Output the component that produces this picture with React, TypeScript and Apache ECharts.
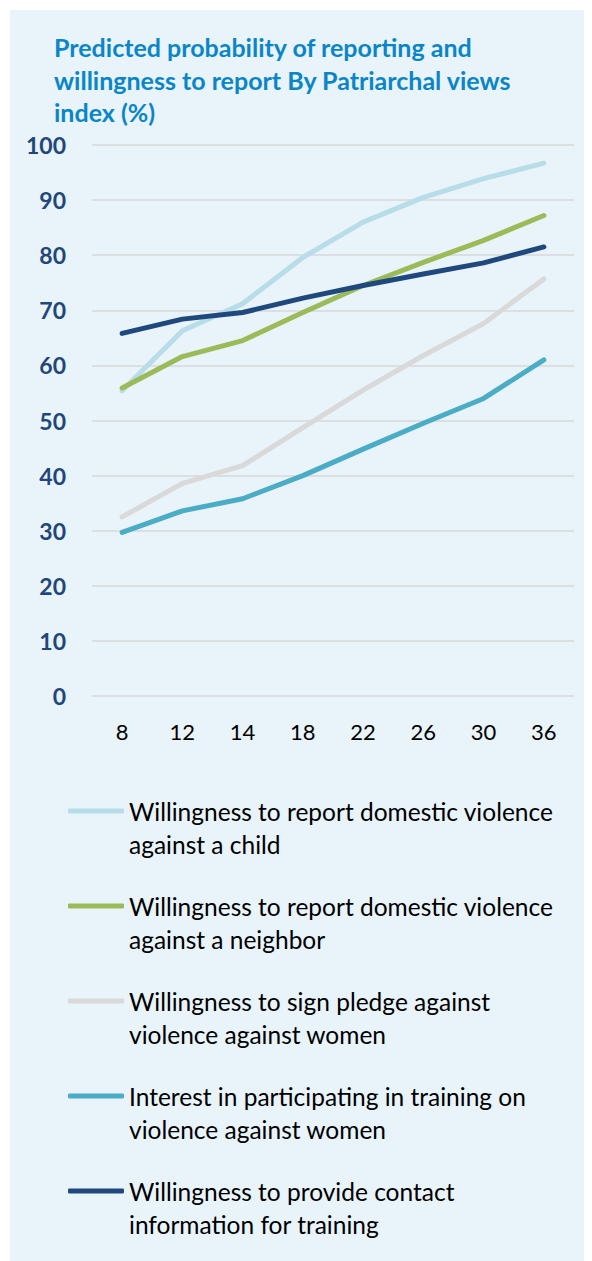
import React, { useEffect, useRef } from "react";
import * as echarts from "echarts";

const categories = ["8", "12", "14", "18", "22", "26", "30", "36"];

const seriesNames = [
  "Willingness to report domestic violence against a child",
  "Willingness to report domestic violence against a neighbor",
  "Willingness to sign pledge against violence against women",
  "Interest in participating in training on violence against women",
  "Willingness to provide contact information for training",
];

const legendLabels = [
  "Willingness to report domestic violence\nagainst a child",
  "Willingness to report domestic violence\nagainst a neighbor",
  "Willingness to sign pledge against\nviolence against women",
  "Interest in participating in training on\nviolence against women",
  "Willingness to provide contact\ninformation for training",
];

const childValues = [55.4, 66.3, 71.2, 79.6, 86.0, 90.5, 93.9, 96.7];
const neighborValues = [55.9, 61.6, 64.5, 69.6, 74.5, 78.7, 82.7, 87.2];
const pledgeValues = [32.5, 38.6, 41.8, 48.7, 55.5, 61.8, 67.6, 75.7];
const trainingValues = [29.7, 33.6, 35.8, 40.0, 44.8, 49.5, 54.0, 61.0];
const contactValues = [65.8, 68.4, 69.6, 72.2, 74.5, 76.6, 78.6, 81.5];

const seriesValues = [childValues, neighborValues, pledgeValues, trainingValues, contactValues];
const seriesColors = ["#b7dde8", "#9bbb59", "#d9d9d9", "#4bacc6", "#1f497d"];

const yTicks = { min: 0, max: 100, interval: 10 };

const titleText =
  "Predicted probability of reporting and\nwillingness to report By Patriarchal views\nindex (%)";

const FONT = "Lato, 'Open Sans', sans-serif";

export default function App() {
  const ref = useRef<HTMLDivElement>(null);

  useEffect(() => {
    if (!ref.current) return;
    const chart = echarts.init(ref.current, undefined, { renderer: "svg" });
    const legendIconY = [801, 896, 991, 1086, 1181];
    const lh = 33;
    chart.setOption({
      animation: false,
      backgroundColor: "#e8f3fa",
      textStyle: { fontFamily: FONT },
      title: {
        text: titleText,
        left: 44,
        top: 21,
        padding: 0,
        textStyle: {
          fontFamily: FONT,
          fontSize: 25,
          fontWeight: "bold",
          color: "#0a86c8",
          lineHeight: 32.5,
        },
      },
      grid: { left: 82, right: 18, top: 135, bottom: 565, containLabel: false },
      xAxis: {
        type: "category",
        data: categories,
        boundaryGap: true,
        axisLine: { show: false },
        axisTick: { show: false },
        axisLabel: { color: "#000000", fontSize: 22, fontFamily: FONT, margin: 24 },
      },
      yAxis: {
        type: "value",
        min: yTicks.min,
        max: yTicks.max,
        interval: yTicks.interval,
        axisLine: { show: false },
        axisTick: { show: false },
        axisLabel: {
          color: "#1f477a",
          fontSize: 23,
          fontWeight: "bold",
          fontFamily: FONT,
          margin: 26,
        },
        splitLine: { lineStyle: { color: "#d9d9d9", width: 1.5 } },
      },
      legend: seriesNames.map((name, i) => ({
        data: [{ name, icon: "roundRect" }],
        left: 58,
        top: legendIconY[i] - (lh * 3) / 2,
        padding: 0,
        itemWidth: 56,
        itemHeight: 5,
        itemGap: 0,
        selectedMode: false,
        formatter: () => "\n" + legendLabels[i],
        textStyle: {
          fontFamily: FONT,
          fontSize: 24.5,
          color: "#000000",
          lineHeight: lh,
        },
      })),
      series: seriesNames.map((name, i) => ({
        name,
        type: "line",
        data: seriesValues[i],
        symbol: "none",
        smooth: false,
        color: seriesColors[i],
        lineStyle: { color: seriesColors[i], width: 5, cap: "round", join: "round" },
      })),
    });
    return () => chart.dispose();
  }, []);

  return (
    <div
      ref={ref}
      style={{ width: 582, height: 1251, marginLeft: 2, marginTop: 2 }}
    />
  );
}
